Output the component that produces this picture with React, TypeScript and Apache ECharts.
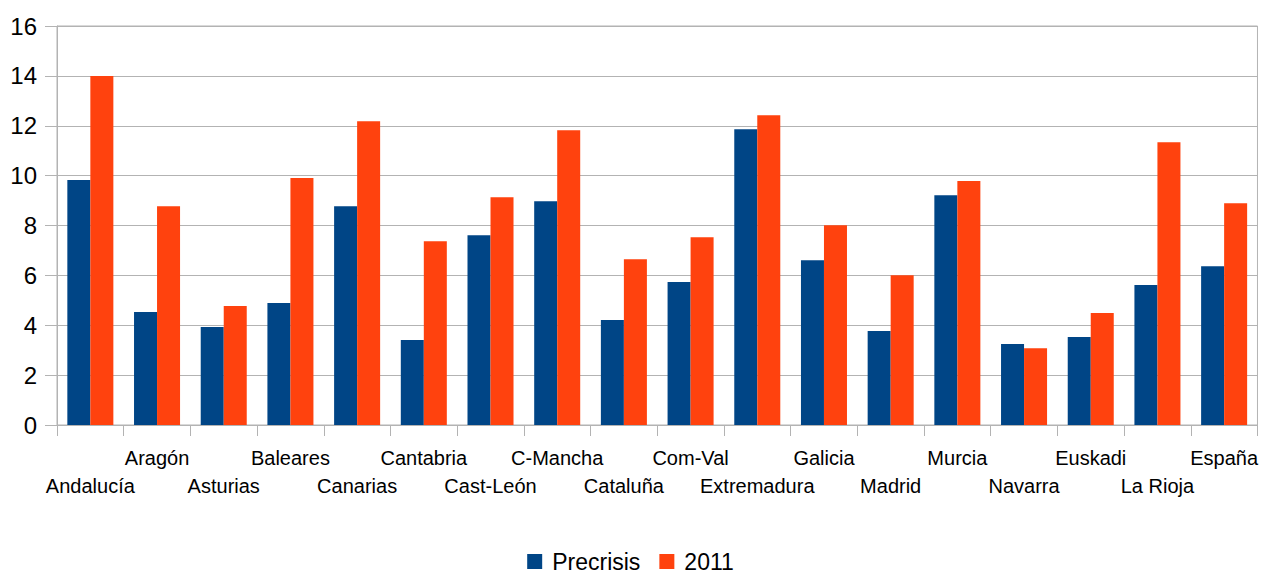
import React, { useEffect, useRef } from "react";
import * as echarts from "echarts";

const categories = [
  "Andalucía", "Aragón", "Asturias", "Baleares", "Canarias", "Cantabria",
  "Cast-León", "C-Mancha", "Cataluña", "Com-Val", "Extremadura", "Galicia",
  "Madrid", "Murcia", "Navarra", "Euskadi", "La Rioja", "España",
];
const precrisis = [9.82, 4.53, 3.93, 4.89, 8.77, 3.41, 7.61, 8.97, 4.21, 5.73, 11.86, 6.61, 3.77, 9.21, 3.25, 3.53, 5.61, 6.37];
const y2011 = [14.0, 8.77, 4.77, 9.9, 12.18, 7.37, 9.13, 11.82, 6.65, 7.53, 12.42, 8.01, 6.01, 9.78, 3.08, 4.49, 11.34, 8.89];
const seriesNames = ["Precrisis", "2011"];
const colors = ["#004586", "#ff420e"];

export default function App() {
  const ref = useRef<HTMLDivElement>(null);
  useEffect(() => {
    if (!ref.current) return;
    const chart = echarts.init(ref.current, undefined, { renderer: "svg" });
    const font = "'Liberation Sans', Arial, sans-serif";
    chart.setOption({
      animation: false,
      color: colors,
      textStyle: { fontFamily: font },
      grid: {
        left: 57, right: 2, top: 26, bottom: 150,
        show: true, borderColor: "#b3b3b3", borderWidth: 1,
      },
      legend: {
        data: seriesNames,
        top: 550,
        left: "center",
        padding: 0,
        itemWidth: 15,
        itemHeight: 15,
        itemGap: 19,
        icon: "rect",
        textStyle: { fontSize: 23, lineHeight: 20, color: "#000", fontFamily: font, padding: [0, 0, 0, 5] },
      },
      xAxis: {
        type: "category",
        data: categories,
        axisLine: { lineStyle: { color: "#b3b3b3", width: 1 } },
        axisTick: { show: true, length: 11, lineStyle: { color: "#b3b3b3" } },
        axisLabel: {
          interval: 0,
          hideOverlap: false,
          margin: 19,
          fontSize: 20,
          lineHeight: 28,
          color: "#000",
          fontFamily: font,
          verticalAlign: "top",
          formatter: (v: string, i: number) => (i % 2 === 0 ? "\n" + v : v),
        },
      },
      yAxis: {
        type: "value",
        min: 0,
        max: 16,
        interval: 2,
        axisLine: { show: true, lineStyle: { color: "#b3b3b3", width: 1 } },
        axisTick: { show: true, length: 12, lineStyle: { color: "#b3b3b3" } },
        splitLine: { lineStyle: { color: "#b3b3b3", width: 1 } },
        axisLabel: { fontSize: 24, color: "#000", margin: 20, fontFamily: font },
      },
      series: [
        {
          name: seriesNames[0],
          type: "bar",
          data: precrisis,
          barGap: "0%",
          barCategoryGap: "31%",
          itemStyle: { color: colors[0] },
        },
        {
          name: seriesNames[1],
          type: "bar",
          data: y2011,
          barGap: "0%",
          barCategoryGap: "31%",
          itemStyle: { color: colors[1] },
        },
      ],
    });
    return () => chart.dispose();
  }, []);
  return (
    <div
      ref={ref}
      style={{ position: "fixed", left: 0, top: 0, width: 1261, height: 575, background: "#fff" }}
    />
  );
}
